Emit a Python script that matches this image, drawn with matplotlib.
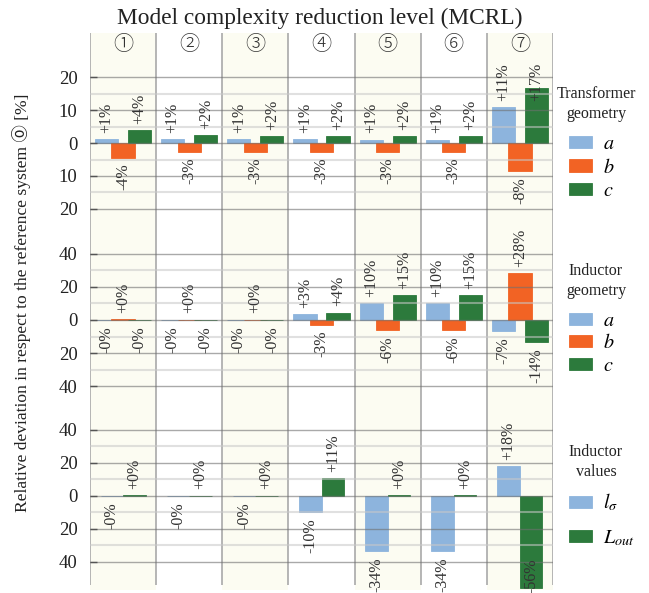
import matplotlib
matplotlib.use("Agg")
import numpy as np
import matplotlib.pyplot as plt

plt.rcParams["font.family"] = ["Liberation Serif", "DejaVu Serif", "DejaVu Sans", "Noto Sans CJK JP"]
plt.rcParams["mathtext.fontset"] = "stix"

# model complexity reduction levels
levels = ["①", "②", "③", "④", "⑤", "⑥", "⑦"]

# transformer geometry deviation [%]
trafo_a = [1.2, 1.2, 1.2, 1.2, 1.0, 1.0, 11.0]
trafo_b = [-4.4, -2.6, -2.6, -2.6, -2.6, -2.6, -8.4]
trafo_c = [3.9, 2.4, 2.1, 2.1, 2.1, 2.1, 16.7]

# inductor geometry deviation [%]
ind_geo_a = [-0.2, -0.1, -0.1, 3.4, 10.4, 10.4, -6.6]
ind_geo_b = [0.45, 0.2, 0.2, -2.8, -6.0, -6.0, 28.2]
ind_geo_c = [-0.3, -0.3, -0.3, 4.4, 15.2, 15.2, -13.6]

# inductor values deviation [%]
ind_val_ls = [-0.2, -0.2, -0.2, -10.0, -33.6, -33.6, 18.0]
ind_val_lout = [0.4, 0.2, 0.2, 11.0, 0.3, 0.3, -55.6]

BLUE = "#8db4dd"
ORANGE = "#f26324"
GREEN = "#2c7a3c"
CREAM = "#fcfcf2"

W, H = 649, 593


def frac(x0, y0, x1, y1):
    # pixel box (top-down) -> figure fraction rect
    return [x0 / W, 1 - y1 / H, (x1 - x0) / W, (y1 - y0) / H]


def fpt(x, y):
    return (x / W, 1 - y / H)


fig = plt.figure(figsize=(W / 100, H / 100), dpi=100)

fig.text(*fpt(320, 18), "Model complexity reduction level (MCRL)",
         ha="center", va="center", fontsize=16.8, color="#222222")
fig.text(*fpt(22, 303), "Relative deviation in respect to the reference system ⓪ [%]",
         ha="center", va="center", rotation=90, fontsize=12.6, color="#222222")

# column bands, separators and level headers
bg = fig.add_axes(frac(90, 33, 553, 590))
bg.set_xlim(0, 7)
bg.set_ylim(0, 1)
bg.axis("off")
for i in range(7):
    if i % 2 == 0:
        bg.axvspan(i, i + 1, color=CREAM, lw=0)
    bg.text(i + 0.5, 1 - 12 / 557, levels[i], ha="center", va="center",
            fontsize=14.5, color="#333333",
            family=["Noto Sans CJK JP", "DejaVu Sans"], fontweight="light")
bg.vlines(np.arange(8), 5 / 557, 1, color="#a9a9a9", lw=1.2)

panels = [
    dict(box=(60, 231), ylim=(-26.7, 25.2), major=[-20, -10, 0, 10, 20],
         minor=[-15, -5, 5, 15], caps=(-20, 11),
         series=[trafo_a, trafo_b, trafo_c], colors=[BLUE, ORANGE, GREEN],
         labels=["$a$", "$b$", "$c$"], title="Transformer\ngeometry",
         title_y=104, leg_y=135, spacing=0.23),
    dict(box=(231, 409), ylim=(-53.9, 53.9), major=[-40, -20, 0, 20, 40],
         minor=[-30, -10, 10, 30], caps=(-40, 40),
         series=[ind_geo_a, ind_geo_b, ind_geo_c], colors=[BLUE, ORANGE, GREEN],
         labels=["$a$", "$b$", "$c$"], title="Inductor\ngeometry",
         title_y=281, leg_y=312, spacing=0.17),
    dict(box=(409, 590), ylim=(-57.0, 52.7), major=[-40, -20, 0, 20, 40],
         minor=[-30, -10, 10, 30], caps=(-34, 40),
         series=[ind_val_ls, ind_val_lout], colors=[BLUE, GREEN],
         labels=[r"$l_\sigma$", r"$L_{out}$"], title="Inductor\nvalues",
         title_y=462, leg_y=492, spacing=0.72),
]

x = np.arange(7) + 0.5
for p in panels:
    ax = fig.add_axes(frac(90, p["box"][0], 553, p["box"][1]))
    ax.patch.set_alpha(0)
    ax.set_xlim(0, 7)
    ax.set_ylim(*p["ylim"])
    for s in ax.spines.values():
        s.set_visible(False)
    ax.set_xticks([])
    ax.set_yticks(p["major"])
    ax.set_yticklabels([str(abs(t)) for t in p["major"]])
    ax.set_yticks(p["minor"], minor=True)
    ax.tick_params(axis="y", which="major", direction="in", length=5, width=1,
                   color="#555555", labelsize=13.5, labelcolor="#222222", pad=9)
    ax.tick_params(axis="y", which="minor", length=0)
    ax.set_axisbelow(False)
    ax.grid(axis="y", which="major", color="#707070", alpha=0.6, lw=1)
    ax.grid(axis="y", which="minor", color="#c8c8c8", alpha=0.55, lw=1.5)

    n = len(p["series"])
    if n == 3:
        offsets, width = [-0.25, 0.0, 0.25], 0.35
    else:
        offsets, width = [-0.17, 0.17], 0.34
    handles = []
    for vals, off, col in zip(p["series"], offsets, p["colors"]):
        vals = np.array(vals)
        bars = ax.bar(x + off, vals, width=width, color=col,
                      edgecolor=col, lw=0.6, zorder=1)
        handles.append(bars)
        lo, hi = p["caps"]
        for xi, v in zip(x + off, vals):
            anchor = min(max(v, lo), hi)
            up = v >= 0
            ax.annotate(f"{v:+.0f}%", (xi, anchor), xytext=(0, 4.5 if up else -4.5),
                        textcoords="offset points", rotation=90, ha="center",
                        va="bottom" if up else "top", fontsize=11.5,
                        color="#333333", annotation_clip=False, zorder=4)

    fig.text(*fpt(596, p["title_y"]), p["title"], ha="center", va="center",
             fontsize=11.5, linespacing=1.35, color="#222222")
    fig.legend(handles, p["labels"], loc="upper left",
               bbox_to_anchor=fpt(569, p["leg_y"]), frameon=False,
               fontsize=14.5, handlelength=1.15, handleheight=0.55,
               handletextpad=0.55, labelspacing=p["spacing"],
               borderpad=0, borderaxespad=0)

fig.savefig("out.png", dpi=100)
